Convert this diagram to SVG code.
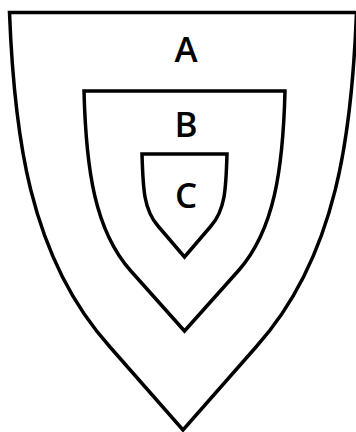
<svg xmlns="http://www.w3.org/2000/svg" width="356" height="432" viewBox="0 0 356 432">
<style>
.shield{fill:none;stroke:#000;stroke-width:3.5;stroke-linejoin:miter}
.lbl{font-family:"Open Sans","Noto Sans",sans-serif;font-size:35px;font-weight:600;fill:#000;text-anchor:middle}
</style>
<rect width="356" height="432" fill="#fff"/>
<g id="A">
<path class="shield" d="M9.5 12.5 H356.5 C352 130 338 256 256 347 L183 430 L110 347 C28 256 14 130 9.5 12.5 Z"/>
<text class="lbl" x="186" y="62">A</text>
</g>
<g id="B">
<path class="shield" d="M84 91 H285 C283 170 274 230 239 270 L184.5 331 L130 270 C95 230 86 170 84 91 Z"/>
<text class="lbl" x="186" y="137">B</text>
</g>
<g id="C">
<path class="shield" d="M142 154 H227 C226 190 225 210 211 226 L184.5 257 L158 226 C144 210 143 190 142 154 Z"/>
<text class="lbl" x="186" y="208">C</text>
</g>
<g id="connectors"/>
</svg>
